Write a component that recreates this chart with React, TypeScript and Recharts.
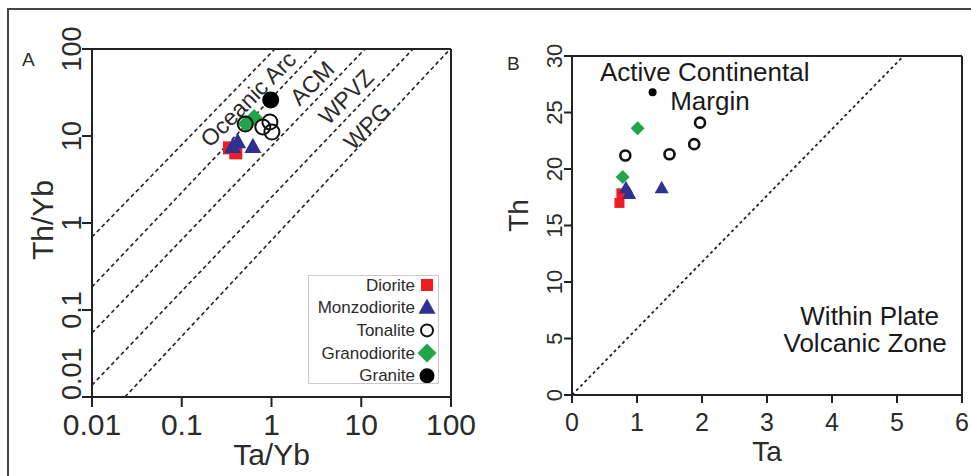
import React from 'react';
import { ScatterChart, Scatter, XAxis, YAxis, ReferenceLine, ReferenceDot } from 'recharts';

const FONT = '"Liberation Sans", Arial, Helvetica, sans-serif';
const INK = '#222';
const TXT = '#2b2b2b';
const RED = '#ee1d23';
const BLUE = '#2e3192';
const GREEN = '#1fa64a';

// ---- panel A : Th/Yb vs Ta/Yb (log-log) ----
const logTicks = [0.01, 0.1, 1, 10, 100];
const dioriteA = [[0.34, 7.3], [0.4, 6.4]];
const monzodioriteA = [[0.42, 8.5], [0.62, 7.5], [0.37, 7.5]];
const tonaliteA = [[0.51, 13.7], [0.8, 12.7], [0.96, 14.5], [1.01, 11.1]];
const granodioriteA = [[0.52, 13.8], [0.64, 16.3]];
const graniteA = [[0.98, 26]];
// field boundaries [x1, y1, x2, y2]
const boundariesA = [
  [0.01, 0.69, 1.09, 100],
  [0.01, 0.184, 3.3, 100],
  [0.01, 0.0544, 11, 100],
  [0.01, 0.0137, 37.7, 100],
  [0.0233, 0.01, 98, 100],
];
const fieldNamesA = ['Oceanic Arc', 'ACM', 'WPVZ', 'WPG'];
const fieldNameXA = [0.55, 2.83, 6.76, 11.6];
const fieldNameYA = [26.6, 40.6, 28.1, 13.0];

// ---- panel B : Th vs Ta ----
const taTicks = [0, 1, 2, 3, 4, 5, 6];
const thTicks = [0, 5, 10, 15, 20, 25, 30];
const dioriteB = [[0.76, 17.85], [0.73, 17.0]];
const monzodioriteB = [[0.83, 18.3], [0.88, 17.8], [1.38, 18.3]];
const tonaliteB = [[0.82, 21.2], [1.5, 21.3], [1.88, 22.2], [1.97, 24.1]];
const granodioriteB = [[1.01, 23.6], [0.78, 19.3]];
const graniteB = [[1.24, 26.8]];
const boundaryB = [0, 0, 5.1, 30];
const zoneTextB = ['Active Continental', 'Margin', 'Within Plate', 'Volcanic Zone'];
const zoneXB = [0.43, 1.51, 4.58, 4.51];
const zoneYB = [27.8, 25.2, 6.2, 3.8];

const legendNames = ['Diorite', 'Monzodiorite', 'Tonalite', 'Granodiorite', 'Granite'];

const toPoints = (rows: number[][]) => rows.map(([x, y]) => ({ x, y }));

// marker shapes
const square = (s: number) => (p: any) => (
  <rect x={p.cx - s / 2} y={p.cy - s / 2} width={s} height={s} fill={RED} />
);
const triangle = (w: number) => (p: any) => {
  const h = w * 0.9;
  return (
    <polygon
      points={`${p.cx},${p.cy - h * 0.6} ${p.cx - w / 2},${p.cy + h * 0.4} ${p.cx + w / 2},${p.cy + h * 0.4}`}
      fill={BLUE}
    />
  );
};
const ring = (r: number, sw: number) => (p: any) => (
  <circle cx={p.cx} cy={p.cy} r={r} fill="none" stroke="#111" strokeWidth={sw} />
);
const diamond = (w: number) => (p: any) => (
  <polygon
    points={`${p.cx},${p.cy - w / 2} ${p.cx + w / 2},${p.cy} ${p.cx},${p.cy + w / 2} ${p.cx - w / 2},${p.cy}`}
    fill={GREEN}
  />
);
const dot = (r: number) => (p: any) => <circle cx={p.cx} cy={p.cy} r={r} fill="#000" />;

const legendShapes = [square(12), triangle(17), ring(6, 2), diamond(19), dot(7.5)];

function XTick({ x, y, payload, fontSize, dy }: any) {
  return (
    <text x={x} y={y + dy} textAnchor="middle" fontSize={fontSize} fill={TXT} fontFamily={FONT}>
      {payload.value}
    </text>
  );
}

function YTick({ x, y, payload, fontSize, dx, low }: any) {
  const first = low !== undefined && payload.value === low;
  const ty = first ? y + 3 : y;
  return (
    <text
      x={x + dx}
      y={ty}
      transform={`rotate(-90, ${x + dx}, ${ty})`}
      textAnchor={first ? 'start' : 'middle'}
      fontSize={fontSize}
      fill={TXT}
      fontFamily={FONT}
    >
      {payload.value}
    </text>
  );
}

const xTitle = (text: string, size: number, down: number) => ({
  content: ({ viewBox }: any) => (
    <text
      x={viewBox.x + viewBox.width / 2}
      y={viewBox.y + down}
      textAnchor="middle"
      fontSize={size}
      fill={TXT}
      fontFamily={FONT}
    >
      {text}
    </text>
  ),
});

const yTitle = (text: string, size: number, left: number, shift: number) => ({
  content: ({ viewBox }: any) => {
    const x = viewBox.x + viewBox.width - left;
    const y = viewBox.y + viewBox.height / 2 + shift;
    return (
      <text
        x={x}
        y={y}
        transform={`rotate(-90, ${x}, ${y})`}
        textAnchor="middle"
        fontSize={size}
        fill={TXT}
        fontFamily={FONT}
      >
        {text}
      </text>
    );
  },
});

function PanelA() {
  return (
    <ScatterChart width={480} height={476} margin={{ top: 49, right: 29, bottom: 39, left: 42 }}>
      <XAxis
        type="number"
        dataKey="x"
        scale="log"
        domain={[0.01, 100]}
        ticks={logTicks}
        interval={0}
        allowDataOverflow
        height={40}
        tickSize={10}
        stroke={INK}
        strokeWidth={2}
        tick={<XTick fontSize={30} dy={26} />}
        label={xTitle('Ta/Yb', 30, 68)}
      />
      <YAxis
        type="number"
        dataKey="y"
        scale="log"
        domain={[0.01, 100]}
        ticks={logTicks}
        interval={0}
        allowDataOverflow
        width={50}
        tickSize={10}
        stroke={INK}
        strokeWidth={2}
        tick={<YTick fontSize={27} dx={1} low={0.01} />}
        label={yTitle('Th/Yb', 30, 39, -3)}
      />
      <ReferenceLine y={100} stroke={INK} strokeWidth={2} ifOverflow="visible" />
      <ReferenceLine x={100} stroke={INK} strokeWidth={2} ifOverflow="visible" />
      {boundariesA.map(([x1, y1, x2, y2], i) => (
        <ReferenceLine
          key={i}
          segment={[{ x: x1, y: y1 }, { x: x2, y: y2 }]}
          stroke={INK}
          strokeWidth={1.6}
          strokeDasharray="4 3"
          ifOverflow="visible"
        />
      ))}
      {fieldNamesA.map((name, i) => (
        <ReferenceDot
          key={name}
          x={fieldNameXA[i]}
          y={fieldNameYA[i]}
          r={0}
          ifOverflow="visible"
          shape={(p: any) => (
            <text
              x={p.cx}
              y={p.cy}
              transform={`rotate(-45, ${p.cx}, ${p.cy})`}
              textAnchor="middle"
              dominantBaseline="central"
              fontSize={23}
              fill={TXT}
              fontFamily={FONT}
            >
              {name}
            </text>
          )}
        />
      ))}
      <Scatter data={toPoints(dioriteA)} shape={square(13)} isAnimationActive={false} />
      <Scatter data={toPoints(monzodioriteA)} shape={triangle(17)} isAnimationActive={false} />
      <Scatter data={toPoints(granodioriteA)} shape={diamond(17)} isAnimationActive={false} />
      <Scatter data={toPoints(tonaliteA)} shape={ring(7.5, 2)} isAnimationActive={false} />
      <Scatter data={toPoints(graniteA)} shape={dot(8.5)} isAnimationActive={false} />
    </ScatterChart>
  );
}

function PanelB() {
  return (
    <ScatterChart width={491} height={476} margin={{ top: 56, right: 9, bottom: 41, left: 42 }}>
      <XAxis
        type="number"
        dataKey="x"
        domain={[0, 6]}
        ticks={taTicks}
        interval={0}
        allowDataOverflow
        height={40}
        tickSize={8}
        stroke={INK}
        strokeWidth={2}
        tick={<XTick fontSize={25} dy={26} />}
        label={xTitle('Ta', 28, 66)}
      />
      <YAxis
        type="number"
        dataKey="y"
        domain={[0, 30]}
        ticks={thTicks}
        interval={0}
        allowDataOverflow
        width={50}
        tickSize={8}
        stroke={INK}
        strokeWidth={2}
        tick={<YTick fontSize={22} dx={0} />}
        label={yTitle('Th', 28, 44, -10)}
      />
      <ReferenceLine y={30} stroke={INK} strokeWidth={2} ifOverflow="visible" />
      <ReferenceLine x={6} stroke={INK} strokeWidth={2} ifOverflow="visible" />
      <ReferenceLine
        segment={[{ x: boundaryB[0], y: boundaryB[1] }, { x: boundaryB[2], y: boundaryB[3] }]}
        stroke={INK}
        strokeWidth={1.8}
        strokeDasharray="3 3"
        ifOverflow="visible"
      />
      {zoneTextB.map((t, i) => (
        <ReferenceDot
          key={t}
          x={zoneXB[i]}
          y={zoneYB[i]}
          r={0}
          ifOverflow="visible"
          shape={(p: any) => (
            <text
              x={p.cx}
              y={p.cy}
              textAnchor={i < 2 ? 'start' : 'middle'}
              fontSize={26}
              fill="#1a1a1a"
              fontFamily={FONT}
            >
              {t}
            </text>
          )}
        />
      ))}
      <Scatter data={toPoints(dioriteB)} shape={square(10)} isAnimationActive={false} />
      <Scatter data={toPoints(monzodioriteB)} shape={triangle(14)} isAnimationActive={false} />
      <Scatter data={toPoints(granodioriteB)} shape={diamond(14)} isAnimationActive={false} />
      <Scatter data={toPoints(tonaliteB)} shape={ring(5, 2.6)} isAnimationActive={false} />
      <Scatter data={toPoints(graniteB)} shape={dot(4)} isAnimationActive={false} />
    </ScatterChart>
  );
}

function LegendA() {
  return (
    <svg
      width={131}
      height={109}
      style={{ position: 'absolute', left: 308, top: 275, border: '1px solid #c9c9c9', boxSizing: 'border-box' }}
    >
      {legendNames.map((name, i) => {
        const cy = 9 + i * 22.7;
        return (
          <g key={name}>
            <text x={106} y={cy} textAnchor="end" dominantBaseline="central" fontSize={17} fill={TXT} fontFamily={FONT}>
              {name}
            </text>
            {legendShapes[i]({ cx: 118, cy })}
          </g>
        );
      })}
    </svg>
  );
}

export default function App() {
  return (
    <div style={{ position: 'fixed', left: 0, top: 0, width: 971, height: 476, background: '#fff', overflow: 'hidden' }}>
      <div
        style={{
          position: 'absolute',
          left: 7,
          top: 8,
          width: 970,
          height: 470,
          borderTop: '2px solid #444',
          borderLeft: '2px solid #444',
        }}
      />
      <div style={{ position: 'absolute', left: 0, top: 0 }}>
        <PanelA />
      </div>
      <div style={{ position: 'absolute', left: 480, top: 0 }}>
        <PanelB />
      </div>
      <LegendA />
      <div style={{ position: 'absolute', left: 22, top: 49, fontFamily: FONT, fontSize: 19, color: TXT }}>A</div>
      <div style={{ position: 'absolute', left: 507, top: 53, fontFamily: FONT, fontSize: 19, color: TXT }}>B</div>
    </div>
  );
}
